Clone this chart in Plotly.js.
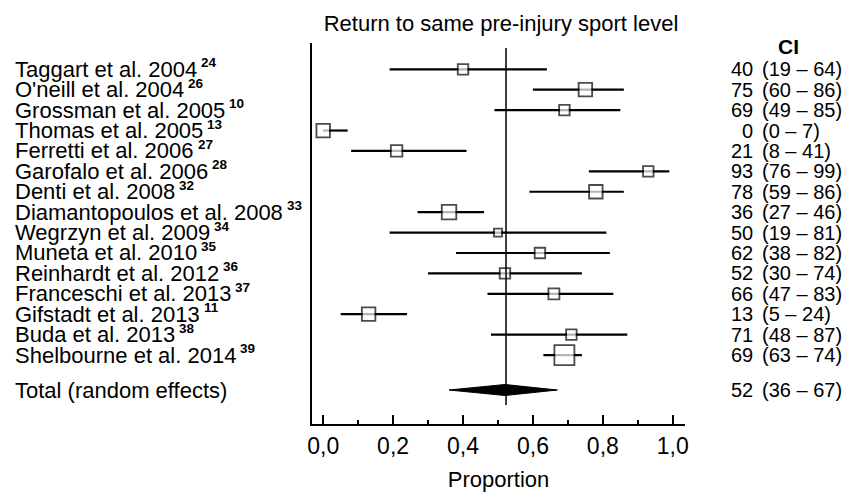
<!DOCTYPE html>
<html>
<head>
<meta charset="utf-8">
<script src="https://cdn.plot.ly/plotly-3.0.1.min.js"></script>
<style>html,body{margin:0;padding:0;background:#fff;}#chart{width:846px;height:492px;}</style>
</head>
<body>
<div id="chart"></div>
<script>
// ---- data ----
const studies = ["Taggart et al. 2004", "O'neill et al. 2004", "Grossman et al. 2005", "Thomas et al. 2005",
  "Ferretti et al. 2006", "Garofalo et al. 2006", "Denti et al. 2008", "Diamantopoulos et al. 2008",
  "Wegrzyn et al. 2009", "Muneta et al. 2010", "Reinhardt et al. 2012", "Franceschi et al. 2013",
  "Gifstadt et al. 2013", "Buda et al. 2013", "Shelbourne et al. 2014"];
const refs = ["24", "26", "10", "13", "27", "28", "32", "33", "34", "35", "36", "37", "11", "38", "39"];
const estimate = [40, 75, 69, 0, 21, 93, 78, 36, 50, 62, 52, 66, 13, 71, 69];
const lower = [19, 60, 49, 0, 8, 76, 59, 27, 19, 38, 30, 47, 5, 48, 63];
const upper = [64, 86, 85, 7, 41, 99, 86, 46, 81, 82, 74, 83, 24, 87, 74];
const totalLabel = "Total (random effects)";
const totalEstimate = 52, totalLower = 36, totalUpper = 67;
const xTickVals = [0, 0.2, 0.4, 0.6, 0.8, 1.0];
const xTickText = ["0,0", "0,2", "0,4", "0,6", "0,8", "1,0"];

// ---- style / layout constants ----
const markerSide = [10.5, 13.5, 10.5, 13.5, 11.5, 10.5, 13.5, 14.5, 8, 10.5, 10.5, 11, 13.5, 10.5, 20];
const FAMILY = "Liberation Sans";
const FONT = "Liberation Sans, Arial, sans-serif";
const LABEL_SIZE = 22, SUP_SIZE = 13.5, CI_SIZE = 20;
const W = 846, H = 492;
const PL = 312, PR = 685, PT = 43, PB = 424;
const row0 = 69.3, rowStep = 20.41;
const px2y = py => (py - row0) / rowStep;
const px2xp = px => (px - PL) / (PR - PL);
const rows = studies.map((s, i) => i);
const totalRow = px2y(390);
const labelLeft = 14;

const ctx = document.createElement("canvas").getContext("2d");
ctx.font = LABEL_SIZE + "px '" + FAMILY + "'";
const textWidth = s => ctx.measureText(s).width;

const prop = v => v / 100;
const traces = [];

// study estimates with CI whiskers
traces.push({
  type: "scatter", mode: "markers",
  x: estimate.map(prop), y: rows,
  marker: { symbol: "square", size: markerSide, color: "#ffffff", line: { color: "#000", width: 1.8 } },
  error_x: { type: "data", symmetric: false,
    array: upper.map((u, i) => prop(u - estimate[i])),
    arrayminus: lower.map((l, i) => prop(estimate[i] - l)),
    width: 0, thickness: 2.2, color: "#000" },
  hoverinfo: "skip", showlegend: false, cliponaxis: false
});

// pooled diamond
const dh = 0.27;
traces.push({
  type: "scatter", mode: "lines", fill: "toself", fillcolor: "#000",
  x: [prop(totalLower), prop(totalEstimate), prop(totalUpper), prop(totalEstimate), prop(totalLower)],
  y: [totalRow, totalRow - dh, totalRow, totalRow + dh, totalRow],
  line: { color: "#000", width: 1 }, hoverinfo: "skip", showlegend: false
});

const annotations = [];
const addText = (px, y, text, anchor, size) => annotations.push({
  xref: "paper", yref: "y", x: px2xp(px), y: y, xanchor: anchor, yanchor: "middle",
  text: text, showarrow: false, borderpad: 0, font: { family: FONT, size: size, color: "#000" } });

studies.forEach((s, i) => {
  addText(labelLeft, rows[i], s, "left", LABEL_SIZE);
  addText(labelLeft + textWidth(s) + 4, rows[i] - 6.5 / rowStep, "<b>" + refs[i] + "</b>", "left", SUP_SIZE);
  addText(754, rows[i], String(estimate[i]), "right", CI_SIZE);
  addText(761, rows[i], "(" + lower[i] + " – " + upper[i] + ")", "left", CI_SIZE);
});
addText(labelLeft, totalRow, totalLabel, "left", LABEL_SIZE);
addText(754, totalRow, String(totalEstimate), "right", CI_SIZE);
addText(761, totalRow, "(" + totalLower + " – " + totalUpper + ")", "left", CI_SIZE);
addText(788, px2y(46), "<b>CI</b>", "center", 21);

const layout = {
  width: W, height: H,
  margin: { l: PL, r: W - PR, t: PT, b: H - PB, pad: 0 },
  paper_bgcolor: "#fff", plot_bgcolor: "#fff",
  font: { family: FONT, color: "#000" },
  title: { text: "Return to same pre-injury sport level", font: { family: FONT, size: 22, color: "#000" },
    x: 501 / W, xanchor: "center", xref: "container", y: 1 - 23 / H, yanchor: "middle", yref: "container" },
  xaxis: {
    range: [-0.032, 1.035], showgrid: false, zeroline: false,
    showline: true, linecolor: "#000", linewidth: 2,
    ticks: "inside", ticklen: 9, tickwidth: 2, tickcolor: "#000",
    tickmode: "array", tickvals: xTickVals, ticktext: xTickText,
    tickfont: { family: FONT, size: 23, color: "#000" },
    minor: { tickmode: "linear", tick0: 0, dtick: 0.1, ticks: "inside", ticklen: 4, tickwidth: 1.5, tickcolor: "#000" },
    title: { text: "Proportion", font: { family: FONT, size: 22, color: "#000" }, standoff: 20 },
    fixedrange: true
  },
  yaxis: {
    range: [px2y(PB), px2y(PT)], showgrid: false, zeroline: false,
    showline: true, linecolor: "#000", linewidth: 2,
    showticklabels: false, ticks: "", fixedrange: true
  },
  shapes: [{
    type: "line", xref: "x", yref: "y", layer: "above",
    x0: prop(totalEstimate) + 0.003, x1: prop(totalEstimate) + 0.003, y0: px2y(48), y1: px2y(405),
    line: { color: "#000", width: 1.5 }
  }],
  annotations: annotations,
  showlegend: false
};

Plotly.newPlot("chart", traces, layout, { staticPlot: true, displayModeBar: false });
</script>
</body>
</html>
